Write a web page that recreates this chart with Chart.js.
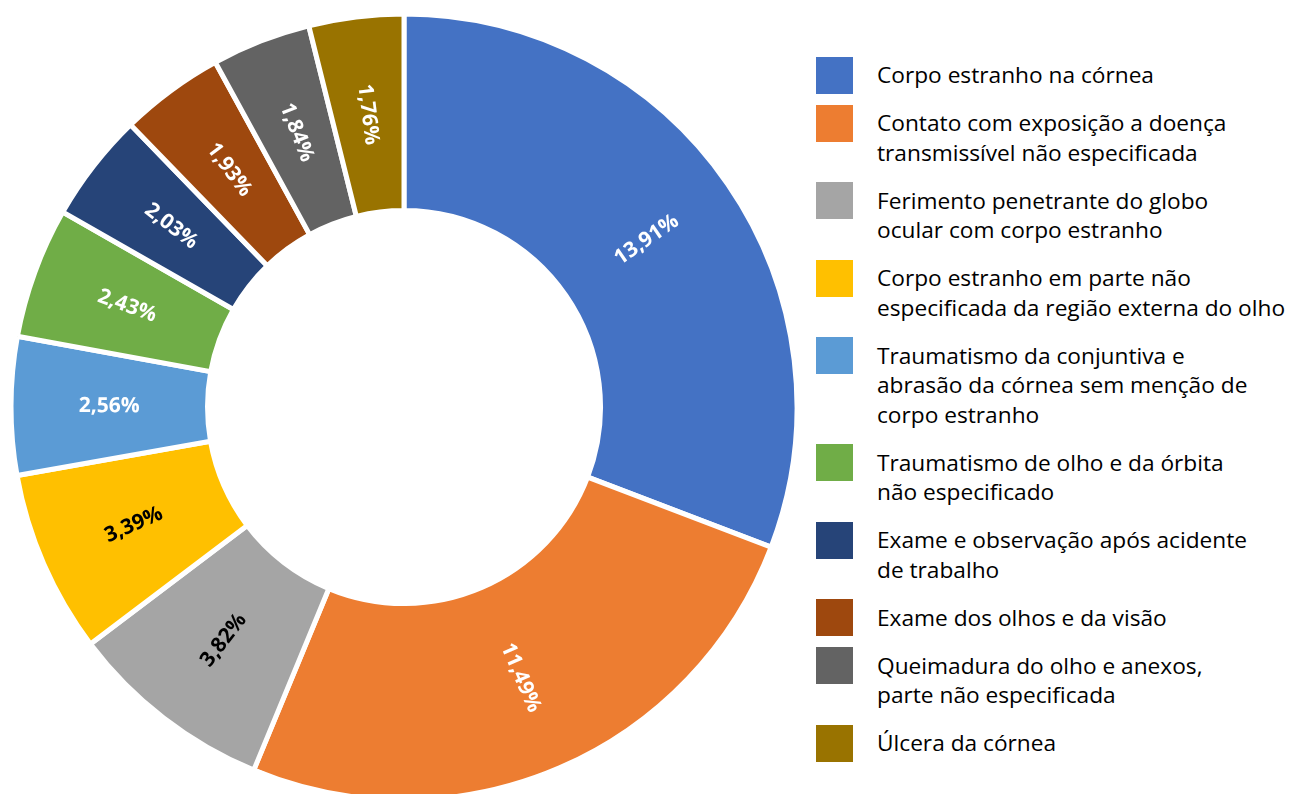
<!DOCTYPE html>
<html>
<head>
<meta charset="utf-8">
<script src="https://cdn.jsdelivr.net/npm/chart.js@4"></script>
<style>
  html, body { margin: 0; padding: 0; background: #fff; }
  body { width: 1296px; height: 794px; position: relative; overflow: hidden; font-family: "Open Sans", "Noto Sans", sans-serif; }
  #chartBox { position: absolute; left: 0; top: 0; width: 808px; height: 794px; }
  #legend { position: absolute; left: 877px; top: 60px; width: 419px; display: flex; flex-direction: column; gap: 18.5px; }
  .item { position: relative; }
  .swatch { position: absolute; left: -61px; top: -3.5px; width: 37px; height: 37px; }
  .text { font-size: 22.7px; line-height: 29.5px; color: #000; white-space: pre; }
</style>
</head>
<body>
<div id="chartBox"><canvas id="donut"></canvas></div>
<div id="legend"></div>
<script>
// Categories (line breaks as in the legend)
const CATEGORIES = [
    'Corpo estranho na córnea',
    'Contato com exposição a doença\ntransmissível não especificada',
    'Ferimento penetrante do globo\nocular com corpo estranho',
    'Corpo estranho em parte não\nespecificada da região externa do olho',
    'Traumatismo da conjuntiva e\nabrasão da córnea sem menção de\ncorpo estranho',
    'Traumatismo de olho e da órbita\nnão especificado',
    'Exame e observação após acidente\nde trabalho',
    'Exame dos olhos e da visão',
    'Queimadura do olho e anexos,\nparte não especificada',
    'Úlcera da córnea',
];

// Percent values
const VALUES = [13.91, 11.49, 3.82, 3.39, 2.56, 2.43, 2.03, 1.93, 1.84, 1.76];

// Office palette
const COLORS = ['#4472C4', '#ED7D31', '#A5A5A5', '#FFC000', '#5B9BD5', '#70AD47', '#264478', '#9E480E', '#636363', '#997300'];
const LABEL_COLORS = ['#fff', '#fff', '#000', '#000', '#fff', '#fff', '#fff', '#fff', '#fff', '#fff'];

const fmt = v => v.toFixed(2).replace('.', ',') + '%';

// Draw rotated value labels at the middle of each ring segment
const radialLabels = {
    id: 'radialLabels',
    afterDatasetsDraw(chart) {
        const ctx = chart.ctx;
        const meta = chart.getDatasetMeta(0);
        ctx.save();
        ctx.font = 'bold 21px "Open Sans", "Noto Sans", sans-serif';
        ctx.textAlign = 'center';
        ctx.textBaseline = 'middle';
        meta.data.forEach((arc, i) => {
            const p = arc.getProps(['x', 'y', 'startAngle', 'endAngle', 'innerRadius', 'outerRadius'], true);
            const a = (p.startAngle + p.endAngle) / 2;
            const r = (p.innerRadius + p.outerRadius) / 2;
            let rot = a;
            let n = ((a % (2 * Math.PI)) + 2 * Math.PI) % (2 * Math.PI);
            if (n > Math.PI / 2 && n < 3 * Math.PI / 2) rot = a - Math.PI;
            ctx.save();
            ctx.translate(p.x + Math.cos(a) * r, p.y + Math.sin(a) * r);
            ctx.rotate(rot);
            ctx.fillStyle = LABEL_COLORS[i];
            ctx.fillText(fmt(VALUES[i]), 0, 0);
            ctx.restore();
        });
        ctx.restore();
    }
};

new Chart(document.getElementById('donut'), {
    type: 'doughnut',
    data: {
        labels: CATEGORIES,
        datasets: [{
            data: VALUES,
            backgroundColor: COLORS,
            borderColor: '#ffffff',
            borderWidth: 5,
            borderJoinStyle: 'miter',
        }]
    },
    options: {
        responsive: true,
        maintainAspectRatio: false,
        animation: false,
        radius: 393,
        cutout: '50%',
        layout: { padding: { top: 20 } },
        plugins: {
            legend: { display: false },
            tooltip: { enabled: false },
        }
    },
    plugins: [radialLabels]
});

// HTML legend
const legend = document.getElementById('legend');
CATEGORIES.forEach((label, i) => {
    const item = document.createElement('div');
    item.className = 'item';
    const sw = document.createElement('div');
    sw.className = 'swatch';
    sw.style.background = COLORS[i];
    const tx = document.createElement('div');
    tx.className = 'text';
    tx.textContent = label;
    item.appendChild(sw);
    item.appendChild(tx);
    legend.appendChild(item);
});
</script>
</body>
</html>
